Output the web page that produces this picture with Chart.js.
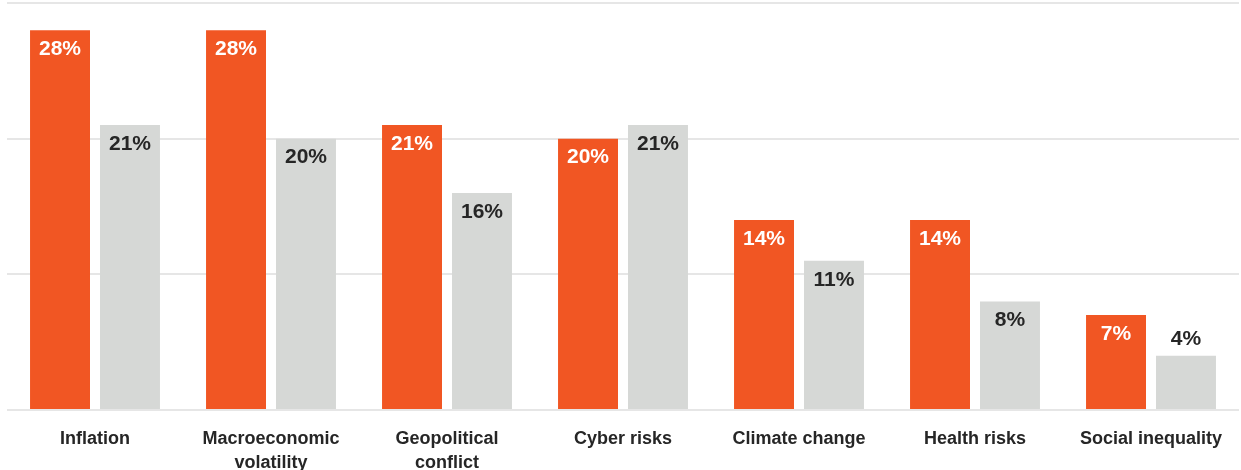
<!DOCTYPE html>
<html>
<head>
<meta charset="utf-8">
<script src="https://cdn.jsdelivr.net/npm/chart.js@4"></script>
<style>
    html, body { margin: 0; padding: 0; background: #fff; }
    #wrap { width: 1241px; height: 470px; position: relative; }
</style>
</head>
<body>
<div id="wrap"><canvas id="myChart"></canvas></div>
<script>
// categories and the two series (percent)
const categories = [
    'Inflation',
    ['Macroeconomic', 'volatility'],
    ['Geopolitical', 'conflict'],
    'Cyber risks',
    'Climate change',
    'Health risks',
    'Social inequality'
];
const currentValues = [28, 28, 21, 20, 14, 14, 7];
const previousValues = [21, 20, 16, 21, 11, 8, 4];
const yTicks = [0, 10, 20, 30];

const ORANGE = '#F15623';
const GREY = '#D6D8D6';
const INK = '#262626';

// writes "NN%" at the top of every bar, above it when the bar is too short
const valueLabels = {
    id: 'valueLabels',
    afterDatasetsDraw(chart) {
        const ctx = chart.ctx;
        ctx.save();
        ctx.font = 'bold 21px "Liberation Sans", Arial, sans-serif';
        ctx.textAlign = 'center';
        ctx.textBaseline = 'middle';
        chart.data.datasets.forEach((ds, i) => {
            const meta = chart.getDatasetMeta(i);
            meta.data.forEach((bar, j) => {
                const h = bar.base - bar.y;
                let y, color;
                if (h < 60) {
                    y = bar.y - 17;
                    color = INK;
                } else {
                    y = bar.y + 19;
                    color = i === 0 ? '#ffffff' : INK;
                }
                ctx.fillStyle = color;
                ctx.fillText(ds.data[j] + '%', bar.x, y);
            });
        });
        ctx.restore();
    }
};

function loadBarChart(){
    const ctx = document.getElementById('myChart').getContext('2d');

    new Chart(ctx, {
        type: 'bar',
        data: {
            labels: categories,
            datasets: [{
                label: 'Current',
                data: currentValues,
                backgroundColor: ORANGE,
                barPercentage: 0.857,
                categoryPercentage: 0.795
            }, {
                label: 'Previous',
                data: previousValues,
                backgroundColor: GREY,
                barPercentage: 0.857,
                categoryPercentage: 0.795
            }]
        },
        plugins: [valueLabels],
        options: {
            responsive: true,
            maintainAspectRatio: false,
            animation: false,
            layout: { padding: { top: 3, left: 7, right: 2, bottom: 0 } },
            plugins: {
                legend: { display: false },
                tooltip: { enabled: false }
            },
            scales: {
                x: {
                    grid: { display: false, drawTicks: false },
                    border: { display: false },
                    ticks: {
                        color: INK,
                        padding: 17,
                        maxRotation: 0,
                        autoSkip: false,
                        font: { family: '"Liberation Sans", Arial, sans-serif', size: 18, weight: 'bold', lineHeight: 1.333 }
                    },
                    afterFit(scale) { scale.height = 60; }
                },
                y: {
                    min: 0,
                    max: 30,
                    afterBuildTicks(scale) { scale.ticks = yTicks.map(v => ({ value: v })); },
                    grid: { color: '#E6E6E6', lineWidth: 2, drawTicks: false },
                    border: { display: false },
                    ticks: { display: false },
                    afterFit(scale) { scale.width = 0; }
                }
            }
        }
    });
}
document.addEventListener('DOMContentLoaded', loadBarChart);
</script>
</body>
</html>
